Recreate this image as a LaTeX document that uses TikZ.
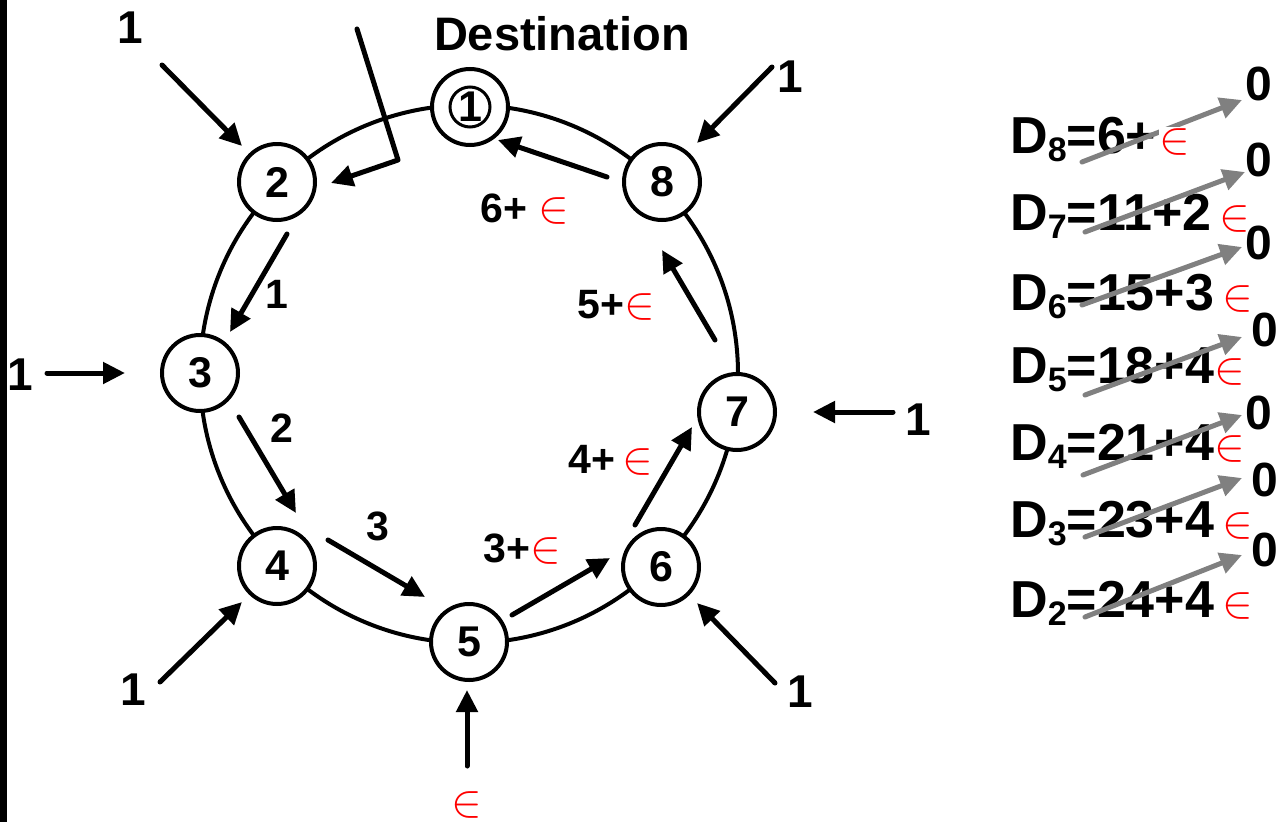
\documentclass[tikz,border=0pt]{standalone}
\usepackage{fontspec}
\setmainfont{Liberation Sans}
\usepackage{graphicx}
\usetikzlibrary{arrows.meta}
\newcommand{\myin}{{\fontsize{10}{12}\selectfont\scalebox{4.6}{\textcolor{red}{$\in$}}}}
\newcommand{\Dsb}[1]{D\raisebox{-8pt}{\fontsize{34}{34}\selectfont #1}}
\tikzset{
  ringnode/.style={circle, draw, line width=4pt, fill=white, minimum size=76pt, inner sep=0pt, font=\fontsize{43}{43}\selectfont\bfseries},
  arr/.style={line width=5pt, line cap=round, -{Triangle[length=22pt,width=21pt]}},
  garr/.style={arr, draw=gray},
  lbl/.style={inner sep=0pt, anchor=base, font=\fontsize{41}{41}\selectfont\bfseries},
  inlbl/.style={inner sep=0pt, anchor=base, font=\fontsize{46}{46}\selectfont\bfseries},
  dlbl/.style={inner sep=0pt, anchor=base west, font=\fontsize{52}{52}\selectfont\bfseries},
  zlbl/.style={inner sep=0pt, font=\fontsize{48}{48}\selectfont\bfseries},
}
\begin{document}
\begin{tikzpicture}[x=1pt,y=-1pt]
\useasboundingbox (0,0) rectangle (1282,822);
\fill (0,0) rectangle (7,822);
% ring
\coordinate (rc) at (469,374);
\draw[line width=4pt] (rc) circle[radius=269pt];
% nodes
\node[ringnode] (n1) at (470,107) {1};
\draw[line width=3pt] (n1.center) circle[radius=20pt];
\node[ringnode] (n2) at (277,182) {2};
\node[ringnode] (n3) at (200,373) {3};
\node[ringnode] (n4) at (277,566) {4};
\node[ringnode] (n5) at (469,642) {5};
\node[ringnode] (n6) at (661,567) {6};
\node[ringnode] (n7) at (737,412) {7};
\node[ringnode] (n8) at (662,182) {8};
\node[inner sep=0pt, anchor=base, font=\fontsize{47}{47}\selectfont\bfseries] (dest) at (562,50) {Destination};
% ring connectors
\coordinate (a23s) at (287,234); \coordinate (a23e) at (230,332);
\coordinate (a34s) at (239,417); \coordinate (a34e) at (296,513);
\coordinate (a45s) at (328,540); \coordinate (a45e) at (425,597);
\coordinate (a56s) at (512,615); \coordinate (a56e) at (610,558);
\coordinate (a67s) at (635,525); \coordinate (a67e) at (692,427);
\coordinate (a78s) at (715,340); \coordinate (a78e) at (662,250);
\coordinate (a81s) at (607,177); \coordinate (a81e) at (498,140);
\draw[arr] (a23s) -- (a23e);
\draw[arr] (a34s) -- (a34e);
\draw[arr] (a45s) -- (a45e);
\draw[arr] (a56s) -- (a56e);
\draw[arr] (a67s) -- (a67e);
\draw[arr] (a78s) -- (a78e);
\draw[arr] (a81s) -- (a81e);
\node[lbl] (l23) at (277,308) {1};
\node[lbl] (l34) at (282,442) {2};
\node[lbl] (l45) at (378,540) {3};
\node[lbl] (l56) at (522,562) {3+\myin};
\node[lbl] (l67) at (611,473) {4+\,\myin};
\node[lbl] (l78) at (616,318) {5+\myin};
\node[lbl] (l81) at (525,222) {6+ \myin};
% bent arrow
\coordinate (bs) at (357,29); \coordinate (bm) at (398,160); \coordinate (be) at (331,183);
\draw[arr, line join=round] (bs) -- (bm) -- (be);
% external inputs
\node[inlbl] (i2) at (130,43) {1};
\coordinate (i2s) at (162,65); \coordinate (i2e) at (242,146);
\draw[arr] (i2s) -- (i2e);
\node[inlbl] (i3) at (20,390) {1};
\coordinate (i3s) at (47,373); \coordinate (i3e) at (125,373);
\draw[arr] (i3s) -- (i3e);
\node[inlbl] (i4) at (133,705) {1};
\coordinate (i4s) at (160,682); \coordinate (i4e) at (242,602);
\draw[arr] (i4s) -- (i4e);
\node[inner sep=0pt] (i5) at (467,805) {\myin};
\coordinate (i5s) at (467,766); \coordinate (i5e) at (467,690);
\draw[arr] (i5s) -- (i5e);
\node[inlbl] (i6) at (800,707) {1};
\coordinate (i6s) at (775,683); \coordinate (i6e) at (697,603);
\draw[arr] (i6s) -- (i6e);
\node[inlbl] (i7) at (918,435) {1};
\coordinate (i7s) at (893,412); \coordinate (i7e) at (813,412);
\draw[arr] (i7s) -- (i7e);
\node[inlbl] (i8) at (790,92) {1};
\coordinate (i8s) at (772,67); \coordinate (i8e) at (697,143);
\draw[arr] (i8s) -- (i8e);
% D column
\node[dlbl] (d8) at (1010,153) {\Dsb{8}=6+};
\node[dlbl] (d7) at (1010,230) {\Dsb{7}=11+2\,\myin};
\node[dlbl] (d6) at (1010,310) {\Dsb{6}=15+3\,\myin};
\node[dlbl] (d5) at (1010,383) {\Dsb{5}=18+4\myin};
\node[dlbl] (d4) at (1010,460) {\Dsb{4}=21+4\myin};
\node[dlbl] (d3) at (1010,537) {\Dsb{3}=23+4\,\myin};
\node[dlbl] (d2) at (1010,617) {\Dsb{2}=24+4\,\myin};
\node[zlbl] (z8) at (1259,84) {0};
\node[zlbl] (z7) at (1259,160) {0};
\node[zlbl] (z6) at (1259,243) {0};
\node[zlbl] (z5) at (1265,330) {0};
\node[zlbl] (z4) at (1259,413) {0};
\node[zlbl] (z3) at (1265,480) {0};
\node[zlbl] (z2) at (1265,550) {0};
\coordinate (g8s) at (1082,162); \coordinate (g8e) at (1242,100);
\coordinate (g7s) at (1085,232); \coordinate (g7e) at (1245,172);
\coordinate (g6s) at (1082,305); \coordinate (g6e) at (1242,247);
\coordinate (g5s) at (1085,395); \coordinate (g5e) at (1242,337);
\coordinate (g4s) at (1083,475); \coordinate (g4e) at (1242,415);
\coordinate (g3s) at (1085,537); \coordinate (g3e) at (1242,478);
\coordinate (g2s) at (1085,617); \coordinate (g2e) at (1242,555);
\foreach \r in {8,7,6,5,4,3,2} { \draw[garr] (g\r s) -- (g\r e); }
\node[inner sep=1pt, fill=white, anchor=base west] (e8) at ([xshift=2pt]d8.base east) {\myin};
\end{tikzpicture}
\end{document}
